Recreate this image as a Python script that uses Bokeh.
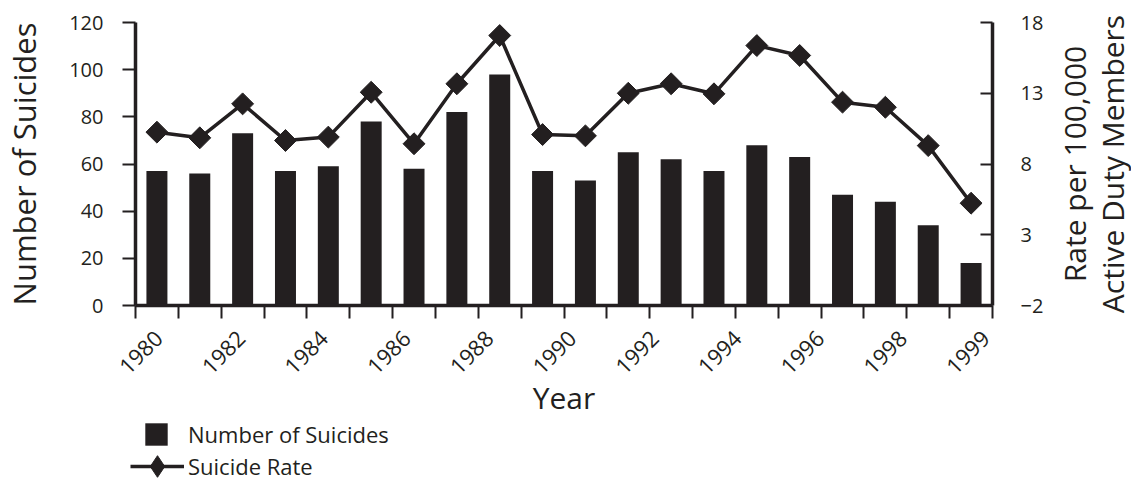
import math
from bokeh.plotting import figure
from bokeh.layouts import column, row
from bokeh.models import (Range1d, LinearAxis, FixedTicker, Legend, LegendItem,
                          ColumnDataSource)
from bokeh.embed import file_html
from bokeh.resources import INLINE

# ---------------- data ----------------
years = [1980, 1981, 1982, 1983, 1984, 1985, 1986, 1987, 1988, 1989,
         1990, 1991, 1992, 1993, 1994, 1995, 1996, 1997, 1998, 1999]
suicides = [57, 56, 73, 57, 59, 78, 58, 82, 98, 57,
            53, 65, 62, 57, 68, 63, 47, 44, 34, 18]
rate = [10.25, 9.85, 12.25, 9.66, 9.9, 13.07, 9.43, 13.67, 17.08, 10.08,
        9.99, 13.0, 13.67, 12.96, 16.37, 15.67, 12.37, 12.01, 9.3, 5.23]
left_ticks = [0, 20, 40, 60, 80, 100, 120]
right_ticks = [-2, 3, 8, 13, 18]
x_tick_labels = ["1980", "1982", "1984", "1986", "1988", "1990",
                 "1992", "1994", "1996", "1998", "1999"]
right_title_lines = ["Rate per 100,000", "Active Duty Members"]

INK = "#231f20"
FONT = "Open Sans"

n = len(years)
xpos = [i + 0.5 for i in range(n)]
src = ColumnDataSource(dict(x=xpos, year=years, n=suicides, rate=rate))

BOTTOM = 118
MAIN_H = 22 + 283 + BOTTOM
MAIN_W = 133 + 857 + 52

p = figure(frame_width=857, frame_height=283,
           x_range=Range1d(0, n), y_range=Range1d(0, 120),
           x_axis_type=None, y_axis_type=None,
           output_backend="svg", toolbar_location=None,
           min_border_left=133, min_border_top=22,
           min_border_right=52, min_border_bottom=BOTTOM)
p.outline_line_color = None

p.extra_y_ranges = {"rate": Range1d(-2, 18)}
lab_off, lab_step = 0.54, 1.93
p.extra_x_ranges = {"lab": Range1d(-lab_off / lab_step, (n - lab_off) / lab_step)}


def draw_series(fig, y2="rate"):
    b = fig.vbar(x="x", top="n", bottom=0, width=0.49, source=src,
                 fill_color=INK, line_color=None)
    l = fig.line(x="x", y="rate", source=src, y_range_name=y2,
                 line_color=INK, line_width=3.5)
    return b, l

bars, ln = draw_series(p)
p.scatter(x="x", y="rate", source=src, y_range_name="rate",
          marker="square", size=15.5, angle=math.pi / 4,
          fill_color=INK, line_color=INK)

# ---------------- axes ----------------
def style(ax):
    ax.axis_line_color = INK
    ax.axis_line_width = 3.5
    ax.major_tick_line_color = INK
    ax.major_tick_line_width = 2
    ax.minor_tick_line_color = None
    ax.minor_tick_in = 0
    ax.minor_tick_out = 0
    ax.major_label_text_font = FONT
    ax.major_label_text_color = INK
    ax.major_label_text_font_size = "20px"
    ax.axis_label_text_font = FONT
    ax.axis_label_text_color = INK
    ax.axis_label_text_font_size = "30px"
    ax.axis_label_text_font_style = "normal"

yl = LinearAxis(ticker=FixedTicker(ticks=left_ticks), axis_label="Number of Suicides")
style(yl)
yl.major_tick_out = 13
yl.major_tick_in = 0
yl.major_label_standoff = 19
yl.axis_label_text_font_size = "31px"
yl.axis_label_standoff = 21
p.add_layout(yl, "left")

yr = LinearAxis(y_range_name="rate", ticker=FixedTicker(ticks=right_ticks))
style(yr)
yr.major_tick_out = 0
yr.major_tick_in = 12
yr.major_label_standoff = 28
p.add_layout(yr, "right")

xt = LinearAxis(ticker=FixedTicker(ticks=list(range(n + 1))))
style(xt)
xt.major_tick_out = 13
xt.major_tick_in = 0
xt.major_label_text_font_size = "0px"
xt.major_label_standoff = 0
p.add_layout(xt, "below")

xl = LinearAxis(x_range_name="lab",
                ticker=FixedTicker(ticks=list(range(len(x_tick_labels)))),
                major_label_overrides={i: s for i, s in enumerate(x_tick_labels)},
                axis_label="Year")
style(xl)
xl.axis_line_color = None
xl.major_tick_line_color = None
xl.major_tick_out = 0
xl.major_tick_in = 0
xl.major_label_orientation = math.pi / 4
xl.major_label_text_font_size = "22px"
xl.major_label_standoff = 16
xl.axis_label_standoff = -7
p.add_layout(xl, "below")

# ---------------- right-hand title: two title-only axes (read bottom to top) ----------------
RT_W = 1131 - MAIN_W
rt = figure(width=RT_W, height=MAIN_H, x_range=Range1d(0, 1), y_range=Range1d(-2, 18),
            x_axis_type=None, y_axis_type=None,
            output_backend="svg", toolbar_location=None,
            min_border_left=RT_W - 1, min_border_right=0, min_border_top=0,
            min_border_bottom=0)
rt.outline_line_color = None
for txt, so in ((right_title_lines[1], 2), (right_title_lines[0], -6)):
    ax = LinearAxis(ticker=FixedTicker(ticks=[]), axis_label=txt)
    style(ax)
    ax.axis_line_color = None
    ax.major_tick_line_color = None
    ax.major_tick_out = 0
    ax.major_tick_in = 0
    ax.major_label_text_font_size = "0px"
    ax.major_label_standoff = 0
    ax.axis_label_standoff = so
    rt.add_layout(ax, "left")

# ---------------- legend ----------------
LG_H = 479 - MAIN_H
lf = figure(width=420, height=LG_H, x_range=Range1d(-3, -2), y_range=Range1d(-3, -2),
            x_axis_type=None, y_axis_type=None,
            output_backend="svg", toolbar_location=None,
            min_border_left=0, min_border_right=0, min_border_top=0, min_border_bottom=0)
lf.outline_line_color = None
# same series drawn outside this panel's ranges: only their legend swatches show
sw_bar, sw_line = draw_series(lf, y2="default")
sw_mark = lf.scatter(x="x", y="rate", source=src, marker="diamond",
                     fill_color=INK, line_color=INK)


def mklegend(items, loc, gw, gh, standoff):
    return Legend(items=items, location=loc, orientation="vertical",
                  glyph_width=gw, glyph_height=gh, label_standoff=standoff,
                  label_height=gh, padding=0, margin=0, spacing=0,
                  border_line_color=None, background_fill_alpha=0,
                  label_text_font=FONT, label_text_font_size="22px",
                  label_text_color=INK)

cA = 479 - 435
cB = 479 - 466
legA = mklegend([LegendItem(label="Number of Suicides", renderers=[sw_bar])],
                (142, cA - 14), 28, 28, 18)
legB = mklegend([LegendItem(label="Suicide Rate", renderers=[sw_line, sw_mark])],
                (130, cB - 27), 54, 54, 4)
lf.add_layout(legA)
lf.add_layout(legB)

layout = column(row(p, rt, spacing=0), lf, spacing=0)
open("out.html", "w").write(file_html(layout, INLINE))
